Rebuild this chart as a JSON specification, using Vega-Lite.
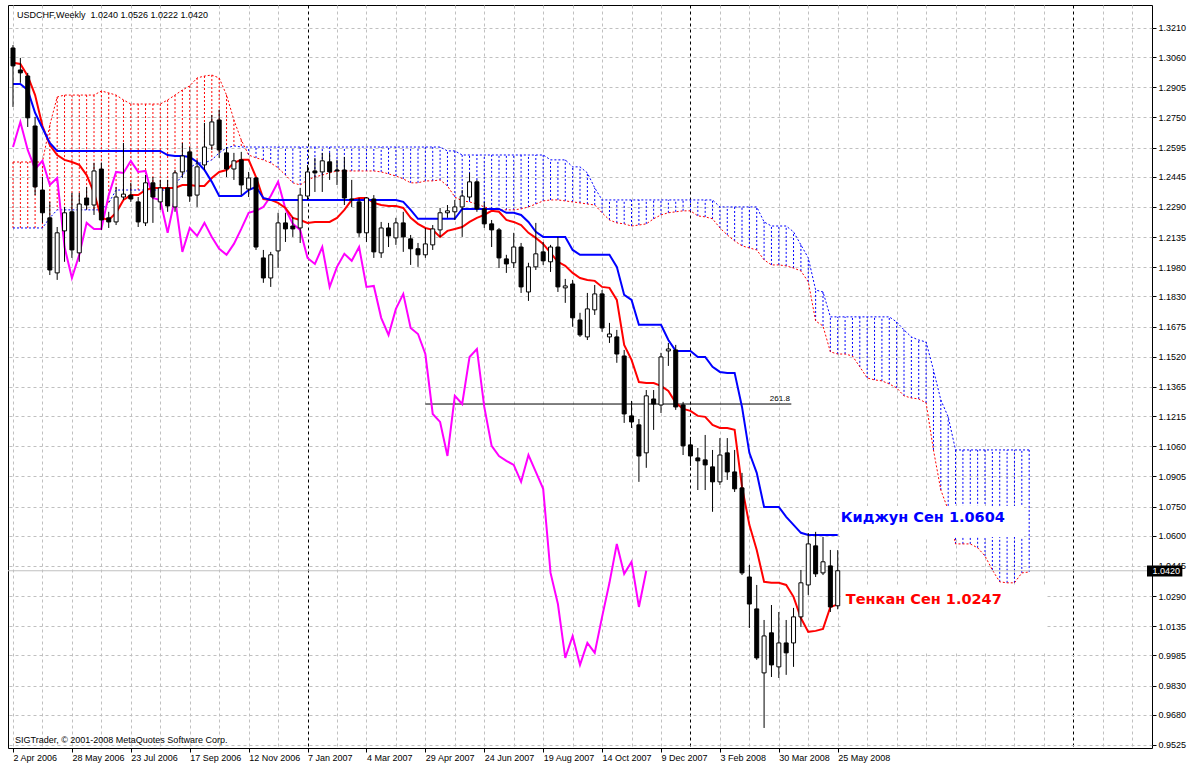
{
"$schema":"https://vega.github.io/schema/vega-lite/v6.json",
"width":1144,"height":743,"autosize":"none",
"padding":{"left":8,"top":5,"right":35,"bottom":15},
"background":"#ffffff",
"config":{"view":{"stroke":"#000000","strokeWidth":1},"font":"Liberation Sans","text":{"font":"Liberation Sans"},
 "axis":{"labelOverlap":false,"labelBound":false,"labelFlush":false,"title":null}},
"datasets":{
"bars":[
{"w":0,"o":1.3107,"h":1.3122,"l":1.2804,"c":1.3015,"t":1.3031,"k":1.2922,"ch":1.2598},
{"w":1,"o":1.2994,"h":1.3056,"l":1.2928,"c":1.2979,"t":1.3025,"k":1.2922,"ch":1.2727},
{"w":2,"o":1.2963,"h":1.2979,"l":1.2701,"c":1.2748,"t":1.2963,"k":1.2891,"ch":1.2583},
{"w":3,"o":1.2706,"h":1.2753,"l":1.2351,"c":1.2393,"t":1.2865,"k":1.2774,"ch":1.2485},
{"w":4,"o":1.2377,"h":1.2444,"l":1.2208,"c":1.2260,"t":1.2706,"k":1.2696,"ch":1.2527},
{"w":5,"o":1.2234,"h":1.2316,"l":1.1940,"c":1.1966,"t":1.2608,"k":1.2619,"ch":1.2403},
{"w":6,"o":1.1951,"h":1.2187,"l":1.1915,"c":1.2157,"t":1.2557,"k":1.2578,"ch":1.2439},
{"w":7,"o":1.2167,"h":1.2290,"l":1.2008,"c":1.2260,"t":1.2532,"k":1.2578,"ch":1.2084},
{"w":8,"o":1.2265,"h":1.2362,"l":1.2028,"c":1.2069,"t":1.2521,"k":1.2578,"ch":1.1925},
{"w":9,"o":1.2054,"h":1.2362,"l":1.2008,"c":1.2305,"t":1.2506,"k":1.2578,"ch":1.2044},
{"w":10,"o":1.2336,"h":1.2393,"l":1.2275,"c":1.2300,"t":1.2454,"k":1.2578,"ch":1.2208},
{"w":11,"o":1.2300,"h":1.2517,"l":1.2249,"c":1.2475,"t":1.2362,"k":1.2578,"ch":1.2177},
{"w":12,"o":1.2485,"h":1.2517,"l":1.2172,"c":1.2223,"t":1.2234,"k":1.2578,"ch":1.2177},
{"w":13,"o":1.2234,"h":1.2265,"l":1.2182,"c":1.2213,"t":1.2223,"k":1.2578,"ch":1.2351},
{"w":14,"o":1.2213,"h":1.2393,"l":1.2197,"c":1.2341,"t":1.2260,"k":1.2578,"ch":1.2470},
{"w":15,"o":1.2341,"h":1.2619,"l":1.2326,"c":1.2356,"t":1.2326,"k":1.2578,"ch":1.2465},
{"w":16,"o":1.2351,"h":1.2414,"l":1.2316,"c":1.2331,"t":1.2351,"k":1.2578,"ch":1.2527},
{"w":17,"o":1.2316,"h":1.2341,"l":1.2187,"c":1.2213,"t":1.2351,"k":1.2578,"ch":1.2470},
{"w":18,"o":1.2208,"h":1.2454,"l":1.2192,"c":1.2414,"t":1.2377,"k":1.2578,"ch":1.2475},
{"w":19,"o":1.2414,"h":1.2444,"l":1.2208,"c":1.2341,"t":1.2388,"k":1.2578,"ch":1.2336},
{"w":20,"o":1.2316,"h":1.2429,"l":1.2275,"c":1.2388,"t":1.2388,"k":1.2578,"ch":1.2326},
{"w":21,"o":1.2388,"h":1.2429,"l":1.2265,"c":1.2295,"t":1.2388,"k":1.2557,"ch":1.2157},
{"w":22,"o":1.2290,"h":1.2480,"l":1.2265,"c":1.2465,"t":1.2388,"k":1.2552,"ch":1.2336},
{"w":23,"o":1.2470,"h":1.2619,"l":1.2439,"c":1.2552,"t":1.2403,"k":1.2552,"ch":1.2059},
{"w":24,"o":1.2573,"h":1.2598,"l":1.2316,"c":1.2346,"t":1.2403,"k":1.2547,"ch":1.2182},
{"w":25,"o":1.2351,"h":1.2532,"l":1.2290,"c":1.2496,"t":1.2398,"k":1.2521,"ch":1.2141},
{"w":26,"o":1.2506,"h":1.2722,"l":1.2480,"c":1.2598,"t":1.2398,"k":1.2480,"ch":1.2208},
{"w":27,"o":1.2608,"h":1.2763,"l":1.2583,"c":1.2727,"t":1.2439,"k":1.2419,"ch":1.2136},
{"w":28,"o":1.2737,"h":1.2789,"l":1.2542,"c":1.2583,"t":1.2470,"k":1.2346,"ch":1.2075},
{"w":29,"o":1.2568,"h":1.2598,"l":1.2444,"c":1.2485,"t":1.2480,"k":1.2346,"ch":1.2044},
{"w":30,"o":1.2485,"h":1.2568,"l":1.2429,"c":1.2527,"t":1.2517,"k":1.2346,"ch":1.2100},
{"w":31,"o":1.2532,"h":1.2573,"l":1.2351,"c":1.2403,"t":1.2532,"k":1.2346,"ch":1.2177},
{"w":32,"o":1.2382,"h":1.2470,"l":1.2341,"c":1.2439,"t":1.2532,"k":1.2377,"ch":1.2260},
{"w":33,"o":1.2439,"h":1.2444,"l":1.2069,"c":1.2084,"t":1.2444,"k":1.2393,"ch":1.2270},
{"w":34,"o":1.2028,"h":1.2069,"l":1.1900,"c":1.1925,"t":1.2331,"k":1.2336,"ch":1.2290},
{"w":35,"o":1.1925,"h":1.2059,"l":1.1879,"c":1.2044,"t":1.2326,"k":1.2326,"ch":1.2346},
{"w":36,"o":1.2064,"h":1.2260,"l":1.1976,"c":1.2208,"t":1.2311,"k":1.2326,"ch":1.2419},
{"w":37,"o":1.2208,"h":1.2260,"l":1.2110,"c":1.2177,"t":1.2285,"k":1.2326,"ch":1.2280},
{"w":38,"o":1.2192,"h":1.2238,"l":1.2136,"c":1.2177,"t":1.2234,"k":1.2326,"ch":1.2203},
{"w":39,"o":1.2182,"h":1.2388,"l":1.2105,"c":1.2351,"t":1.2223,"k":1.2326,"ch":1.2172},
{"w":40,"o":1.2346,"h":1.2506,"l":1.2326,"c":1.2470,"t":1.2208,"k":1.2326,"ch":1.2028},
{"w":41,"o":1.2475,"h":1.2542,"l":1.2367,"c":1.2465,"t":1.2213,"k":1.2326,"ch":1.1997},
{"w":42,"o":1.2470,"h":1.2568,"l":1.2367,"c":1.2527,"t":1.2213,"k":1.2326,"ch":1.2084},
{"w":43,"o":1.2522,"h":1.2568,"l":1.2429,"c":1.2470,"t":1.2213,"k":1.2326,"ch":1.1879},
{"w":44,"o":1.2480,"h":1.2532,"l":1.2403,"c":1.2475,"t":1.2234,"k":1.2326,"ch":1.1982},
{"w":45,"o":1.2480,"h":1.2547,"l":1.2300,"c":1.2336,"t":1.2275,"k":1.2326,"ch":1.2049},
{"w":46,"o":1.2331,"h":1.2429,"l":1.2290,"c":1.2326,"t":1.2326,"k":1.2326,"ch":1.2013},
{"w":47,"o":1.2316,"h":1.2336,"l":1.2136,"c":1.2157,"t":1.2336,"k":1.2326,"ch":1.2084},
{"w":48,"o":1.2157,"h":1.2341,"l":1.2110,"c":1.2336,"t":1.2336,"k":1.2326,"ch":1.1879},
{"w":49,"o":1.2331,"h":1.2351,"l":1.2028,"c":1.2059,"t":1.2311,"k":1.2326,"ch":1.1884},
{"w":50,"o":1.2054,"h":1.2213,"l":1.2028,"c":1.2182,"t":1.2300,"k":1.2326,"ch":1.1720},
{"w":51,"o":1.2182,"h":1.2208,"l":1.2084,"c":1.2141,"t":1.2295,"k":1.2326,"ch":1.1632},
{"w":52,"o":1.2131,"h":1.2234,"l":1.2095,"c":1.2208,"t":1.2295,"k":1.2326,"ch":1.1766},
{"w":53,"o":1.2208,"h":1.2265,"l":1.2059,"c":1.2136,"t":1.2285,"k":1.2316,"ch":1.1843},
{"w":54,"o":1.2126,"h":1.2146,"l":1.1992,"c":1.2075,"t":1.2234,"k":1.2275,"ch":1.1668},
{"w":55,"o":1.2075,"h":1.2105,"l":1.1982,"c":1.2044,"t":1.2203,"k":1.2229,"ch":1.1637},
{"w":56,"o":1.2044,"h":1.2182,"l":1.2028,"c":1.2100,"t":1.2182,"k":1.2229,"ch":1.1534},
{"w":57,"o":1.2095,"h":1.2197,"l":1.2069,"c":1.2177,"t":1.2172,"k":1.2229,"ch":1.1226},
{"w":58,"o":1.2172,"h":1.2285,"l":1.2136,"c":1.2260,"t":1.2136,"k":1.2229,"ch":1.1185},
{"w":59,"o":1.2260,"h":1.2300,"l":1.2234,"c":1.2270,"t":1.2167,"k":1.2229,"ch":1.1010},
{"w":60,"o":1.2265,"h":1.2326,"l":1.2223,"c":1.2290,"t":1.2177,"k":1.2229,"ch":1.1319},
{"w":61,"o":1.2290,"h":1.2377,"l":1.2136,"c":1.2346,"t":1.2187,"k":1.2280,"ch":1.1277},
{"w":62,"o":1.2341,"h":1.2465,"l":1.2326,"c":1.2419,"t":1.2213,"k":1.2280,"ch":1.1519},
{"w":63,"o":1.2419,"h":1.2429,"l":1.2265,"c":1.2280,"t":1.2234,"k":1.2280,"ch":1.1560},
{"w":64,"o":1.2280,"h":1.2316,"l":1.2182,"c":1.2203,"t":1.2249,"k":1.2280,"ch":1.1262},
{"w":65,"o":1.2203,"h":1.2223,"l":1.2084,"c":1.2172,"t":1.2270,"k":1.2280,"ch":1.1062},
{"w":66,"o":1.2172,"h":1.2182,"l":1.1976,"c":1.2028,"t":1.2265,"k":1.2280,"ch":1.1010},
{"w":67,"o":1.2023,"h":1.2044,"l":1.1951,"c":1.1997,"t":1.2223,"k":1.2260,"ch":1.0985},
{"w":68,"o":1.2003,"h":1.2157,"l":1.1976,"c":1.2084,"t":1.2213,"k":1.2260,"ch":1.0964},
{"w":69,"o":1.2084,"h":1.2105,"l":1.1848,"c":1.1879,"t":1.2197,"k":1.2249,"ch":1.0877},
{"w":70,"o":1.1853,"h":1.2003,"l":1.1807,"c":1.1982,"t":1.2157,"k":1.2213,"ch":1.1015},
{"w":71,"o":1.1982,"h":1.2208,"l":1.1966,"c":1.2049,"t":1.2131,"k":1.2162,"ch":1.0928},
{"w":72,"o":1.2059,"h":1.2110,"l":1.1992,"c":1.2013,"t":1.2100,"k":1.2136,"ch":1.0841},
{"w":73,"o":1.2008,"h":1.2095,"l":1.1956,"c":1.2084,"t":1.2054,"k":1.2136,"ch":1.0409},
{"w":74,"o":1.2084,"h":1.2136,"l":1.1853,"c":1.1879,"t":1.2008,"k":1.2136,"ch":1.0249},
{"w":75,"o":1.1874,"h":1.1920,"l":1.1797,"c":1.1884,"t":1.1987,"k":1.2136,"ch":0.9972},
{"w":76,"o":1.1894,"h":1.1915,"l":1.1674,"c":1.1720,"t":1.1951,"k":1.2069,"ch":1.0085},
{"w":77,"o":1.1709,"h":1.1746,"l":1.1622,"c":1.1632,"t":1.1925,"k":1.2044,"ch":0.9936},
{"w":78,"o":1.1622,"h":1.1848,"l":1.1606,"c":1.1766,"t":1.1915,"k":1.2044,"ch":1.0049},
{"w":79,"o":1.1761,"h":1.1889,"l":1.1735,"c":1.1843,"t":1.1910,"k":1.2044,"ch":0.9998},
{"w":80,"o":1.1843,"h":1.1863,"l":1.1648,"c":1.1668,"t":1.1879,"k":1.2044,"ch":1.0183},
{"w":81,"o":1.1622,"h":1.1694,"l":1.1591,"c":1.1637,"t":1.1874,"k":1.2044,"ch":1.0358},
{"w":82,"o":1.1622,"h":1.1658,"l":1.1489,"c":1.1534,"t":1.1812,"k":1.1982,"ch":1.0558},
{"w":83,"o":1.1524,"h":1.1555,"l":1.1180,"c":1.1226,"t":1.1581,"k":1.1838,"ch":1.0404},
{"w":84,"o":1.1216,"h":1.1293,"l":1.1154,"c":1.1185,"t":1.1504,"k":1.1812,"ch":1.0466},
{"w":85,"o":1.1170,"h":1.1200,"l":1.0877,"c":1.1010,"t":1.1390,"k":1.1684,"ch":1.0234},
{"w":86,"o":1.1026,"h":1.1349,"l":1.0949,"c":1.1319,"t":1.1385,"k":1.1684,"ch":1.0420},
{"w":87,"o":1.1303,"h":1.1349,"l":1.1144,"c":1.1277,"t":1.1385,"k":1.1684},
{"w":88,"o":1.1272,"h":1.1540,"l":1.1231,"c":1.1519,"t":1.1370,"k":1.1684},
{"w":89,"o":1.1550,"h":1.1591,"l":1.1473,"c":1.1560,"t":1.1344,"k":1.1606},
{"w":90,"o":1.1555,"h":1.1581,"l":1.1247,"c":1.1262,"t":1.1283,"k":1.1550},
{"w":91,"o":1.1272,"h":1.1288,"l":1.1015,"c":1.1062,"t":1.1252,"k":1.1550},
{"w":92,"o":1.1067,"h":1.1108,"l":1.0959,"c":1.1010,"t":1.1242,"k":1.1550},
{"w":93,"o":1.1000,"h":1.1051,"l":1.0835,"c":1.0985,"t":1.1216,"k":1.1519},
{"w":94,"o":1.0990,"h":1.1118,"l":1.0835,"c":1.0964,"t":1.1211,"k":1.1519},
{"w":95,"o":1.0954,"h":1.1041,"l":1.0723,"c":1.0877,"t":1.1170,"k":1.1468},
{"w":96,"o":1.0877,"h":1.1102,"l":1.0861,"c":1.1015,"t":1.1154,"k":1.1442},
{"w":97,"o":1.1026,"h":1.1102,"l":1.0887,"c":1.0928,"t":1.1154,"k":1.1437},
{"w":98,"o":1.0928,"h":1.1041,"l":1.0825,"c":1.0841,"t":1.1144,"k":1.1437},
{"w":99,"o":1.0846,"h":1.0923,"l":1.0398,"c":1.0409,"t":1.0851,"k":1.1262},
{"w":100,"o":1.0388,"h":1.0450,"l":1.0126,"c":1.0249,"t":1.0656,"k":1.1026},
{"w":101,"o":1.0224,"h":1.0347,"l":0.9962,"c":0.9972,"t":1.0527,"k":1.0923},
{"w":102,"o":0.9895,"h":1.0167,"l":0.9612,"c":1.0085,"t":1.0363,"k":1.0748},
{"w":103,"o":1.0101,"h":1.0244,"l":0.9874,"c":0.9936,"t":1.0358,"k":1.0748},
{"w":104,"o":0.9926,"h":1.0208,"l":0.9869,"c":1.0049,"t":1.0358,"k":1.0748},
{"w":105,"o":1.0049,"h":1.0167,"l":0.9885,"c":0.9998,"t":1.0347,"k":1.0697},
{"w":106,"o":1.0049,"h":1.0229,"l":0.9926,"c":1.0183,"t":1.0286,"k":1.0656},
{"w":107,"o":1.0183,"h":1.0424,"l":1.0131,"c":1.0358,"t":1.0177,"k":1.0615},
{"w":108,"o":1.0347,"h":1.0614,"l":1.0296,"c":1.0558,"t":1.0106,"k":1.0604},
{"w":109,"o":1.0548,"h":1.0620,"l":1.0388,"c":1.0404,"t":1.0111,"k":1.0604},
{"w":110,"o":1.0409,"h":1.0594,"l":1.0398,"c":1.0466,"t":1.0121,"k":1.0604},
{"w":111,"o":1.0445,"h":1.0527,"l":1.0208,"c":1.0234,"t":1.0234,"k":1.0604},
{"w":112,"o":1.0240,"h":1.0526,"l":1.0222,"c":1.0420,"t":1.0247,"k":1.0604}
],
"cloud":[
{"w":0,"a":1.2521,"b":1.2182},{"w":1,"a":1.2521,"b":1.2182},{"w":2,"a":1.2521,"b":1.2182},{"w":3,"a":1.2521,"b":1.2182},{"w":4,"a":1.2521,"b":1.2182},
{"w":5,"a":1.2711,"b":1.2234},{"w":6,"a":1.2855,"b":1.2275},{"w":7,"a":1.2865,"b":1.2275},{"w":8,"a":1.2865,"b":1.2275},{"w":9,"a":1.2865,"b":1.2275},
{"w":10,"a":1.2865,"b":1.2275},{"w":11,"a":1.2865,"b":1.2275},{"w":12,"a":1.2886,"b":1.2275},{"w":13,"a":1.2876,"b":1.2311},{"w":14,"a":1.2865,"b":1.2377},
{"w":15,"a":1.2840,"b":1.2377},{"w":16,"a":1.2819,"b":1.2377},{"w":17,"a":1.2819,"b":1.2377},{"w":18,"a":1.2819,"b":1.2377},{"w":19,"a":1.2819,"b":1.2377},
{"w":20,"a":1.2819,"b":1.2377},{"w":21,"a":1.2840,"b":1.2377},{"w":22,"a":1.2865,"b":1.2403},{"w":23,"a":1.2891,"b":1.2454},{"w":24,"a":1.2912,"b":1.2491},
{"w":25,"a":1.2953,"b":1.2516},{"w":26,"a":1.2963,"b":1.2516},{"w":27,"a":1.2968,"b":1.2532},{"w":28,"a":1.2953,"b":1.2568},{"w":29,"a":1.2865,"b":1.2593},
{"w":30,"a":1.2737,"b":1.2604},{"w":31,"a":1.2634,"b":1.2598},{"w":32,"a":1.2557,"b":1.2598},{"w":33,"a":1.2542,"b":1.2598},{"w":34,"a":1.2532,"b":1.2598},
{"w":35,"a":1.2516,"b":1.2598},{"w":36,"a":1.2491,"b":1.2598},{"w":37,"a":1.2454,"b":1.2598},{"w":38,"a":1.2414,"b":1.2598},{"w":39,"a":1.2403,"b":1.2598},
{"w":40,"a":1.2429,"b":1.2598},{"w":41,"a":1.2444,"b":1.2598},{"w":42,"a":1.2454,"b":1.2598},{"w":43,"a":1.2465,"b":1.2598},{"w":44,"a":1.2475,"b":1.2598},
{"w":45,"a":1.2475,"b":1.2598},{"w":46,"a":1.2475,"b":1.2598},{"w":47,"a":1.2475,"b":1.2598},{"w":48,"a":1.2475,"b":1.2598},{"w":49,"a":1.2475,"b":1.2598},
{"w":50,"a":1.2470,"b":1.2598},{"w":51,"a":1.2460,"b":1.2598},{"w":52,"a":1.2449,"b":1.2598},{"w":53,"a":1.2434,"b":1.2598},{"w":54,"a":1.2414,"b":1.2598},
{"w":55,"a":1.2414,"b":1.2598},{"w":56,"a":1.2424,"b":1.2598},{"w":57,"a":1.2424,"b":1.2598},{"w":58,"a":1.2429,"b":1.2598},{"w":59,"a":1.2398,"b":1.2578},
{"w":60,"a":1.2341,"b":1.2578},{"w":61,"a":1.2321,"b":1.2557},{"w":62,"a":1.2316,"b":1.2557},{"w":63,"a":1.2305,"b":1.2557},{"w":64,"a":1.2290,"b":1.2557},
{"w":65,"a":1.2280,"b":1.2557},{"w":66,"a":1.2275,"b":1.2557},{"w":67,"a":1.2275,"b":1.2557},{"w":68,"a":1.2275,"b":1.2557},{"w":69,"a":1.2280,"b":1.2557},
{"w":70,"a":1.2290,"b":1.2557},{"w":71,"a":1.2305,"b":1.2557},{"w":72,"a":1.2321,"b":1.2557},{"w":73,"a":1.2326,"b":1.2532},{"w":74,"a":1.2326,"b":1.2532},
{"w":75,"a":1.2321,"b":1.2532},{"w":76,"a":1.2316,"b":1.2496},{"w":77,"a":1.2311,"b":1.2496},{"w":78,"a":1.2305,"b":1.2465},{"w":79,"a":1.2300,"b":1.2388},
{"w":80,"a":1.2260,"b":1.2326},{"w":81,"a":1.2223,"b":1.2326},{"w":82,"a":1.2208,"b":1.2326},{"w":83,"a":1.2203,"b":1.2326},{"w":84,"a":1.2192,"b":1.2326},
{"w":85,"a":1.2197,"b":1.2326},{"w":86,"a":1.2203,"b":1.2326},{"w":87,"a":1.2229,"b":1.2326},{"w":88,"a":1.2249,"b":1.2326},{"w":89,"a":1.2260,"b":1.2326},
{"w":90,"a":1.2265,"b":1.2326},{"w":91,"a":1.2270,"b":1.2326},{"w":92,"a":1.2270,"b":1.2326},{"w":93,"a":1.2244,"b":1.2326},{"w":94,"a":1.2239,"b":1.2326},
{"w":95,"a":1.2229,"b":1.2326},{"w":96,"a":1.2182,"b":1.2290},{"w":97,"a":1.2146,"b":1.2290},{"w":98,"a":1.2115,"b":1.2290},{"w":99,"a":1.2090,"b":1.2290},
{"w":100,"a":1.2079,"b":1.2290},{"w":101,"a":1.2069,"b":1.2290},{"w":102,"a":1.2018,"b":1.2213},{"w":103,"a":1.1992,"b":1.2192},{"w":104,"a":1.1992,"b":1.2192},
{"w":105,"a":1.1987,"b":1.2192},{"w":106,"a":1.1976,"b":1.2162},{"w":107,"a":1.1961,"b":1.2095},{"w":108,"a":1.1905,"b":1.2028},{"w":109,"a":1.1704,"b":1.1863},
{"w":110,"a":1.1678,"b":1.1853},{"w":111,"a":1.1545,"b":1.1725},{"w":112,"a":1.1534,"b":1.1725},{"w":113,"a":1.1534,"b":1.1725},{"w":114,"a":1.1524,"b":1.1725},
{"w":115,"a":1.1468,"b":1.1725},{"w":116,"a":1.1411,"b":1.1725},{"w":117,"a":1.1401,"b":1.1725},{"w":118,"a":1.1396,"b":1.1725},{"w":119,"a":1.1380,"b":1.1725},
{"w":120,"a":1.1360,"b":1.1699},{"w":121,"a":1.1319,"b":1.1658},{"w":122,"a":1.1308,"b":1.1622},{"w":123,"a":1.1303,"b":1.1606},{"w":124,"a":1.1283,"b":1.1596},
{"w":125,"a":1.1041,"b":1.1452},{"w":126,"a":1.0835,"b":1.1298},{"w":127,"a":1.0733,"b":1.1211},{"w":128,"a":1.0558,"b":1.1041},{"w":129,"a":1.0558,"b":1.1041},
{"w":130,"a":1.0558,"b":1.1041},{"w":131,"a":1.0538,"b":1.1041},{"w":132,"a":1.0496,"b":1.1041},{"w":133,"a":1.0424,"b":1.1041},{"w":134,"a":1.0363,"b":1.1041},
{"w":135,"a":1.0358,"b":1.1041},{"w":136,"a":1.0358,"b":1.1041},{"w":137,"a":1.0409,"b":1.1041},{"w":138,"a":1.0414,"b":1.1041}
]
},
"layer":[
{"data":{"name":"cloud"},
 "mark":{"type":"rule","strokeWidth":1,"strokeDash":[2,2]},
 "encoding":{
  "x":{"field":"w","type":"quantitative","scale":{"domain":[0,154],"nice":false,"zero":false},
   "axis":{"orient":"bottom","tickCount":200,"values":[0,4,8,12,16,20,24,28,32,36,40,44,48,52,56,60,64,68,72,76,80,84,88,92,96,100,104,108,112,116,120,124,128,132,136,140,144,148,152],
    "labelExpr":"(datum.value % 8 == 0 && datum.value <= 112) ? ['2 Apr 2006','28 May 2006','23 Jul 2006','17 Sep 2006','12 Nov 2006','7 Jan 2007','4 Mar 2007','29 Apr 2007','24 Jun 2007','19 Aug 2007','14 Oct 2007','9 Dec 2007','3 Feb 2008','30 Mar 2008','25 May 2008'][datum.value / 8] : ''",
    "grid":true,"gridDash":[3,3],
    "gridColor":{"condition":{"test":"datum.value == 40 || datum.value == 92 || datum.value == 144","value":"#000000"},"value":"#c0c0c0"},
    "domain":false,"ticks":true,"tickSize":4,"tickColor":"#000000",
    "tickOpacity":{"condition":{"test":"datum.value % 8 == 0 && datum.value <= 112","value":1},"value":0},
    "labelAlign":"left","labelPadding":1,"labelFontSize":9,"labelFont":"Liberation Sans","labelColor":"#000000",
    "labelOverlap":false,"labelBound":false,"labelFlush":false,"title":null}},
  "y":{"field":"a","type":"quantitative","scale":{"domain":[0.9509,1.3328],"nice":false,"zero":false},
   "axis":{"orient":"right","tickCount":200,"values":[1.321,1.306,1.2905,1.275,1.2595,1.2445,1.229,1.2135,1.198,1.183,1.1675,1.152,1.1365,1.1215,1.106,1.0905,1.075,1.06,1.0445,1.029,1.0135,0.9985,0.983,0.968,0.9525],
    "format":".4f","grid":true,"gridDash":[3,3],"gridColor":"#c0c0c0","domain":false,"tickSize":4,"tickColor":"#000000",
    "labelPadding":2,"labelFontSize":9,"labelFont":"Liberation Sans","labelColor":"#000000","labelOverlap":false,"labelBound":false,"labelFlush":false,"title":null}},
  "y2":{"field":"b"},
  "color":{"condition":{"test":"datum.a > datum.b","value":"#ff0000"},"value":"#0000ff"}
 }},
{"data":{"name":"cloud"},"mark":{"type":"line","color":"#ff0000","strokeWidth":1,"strokeDash":[2,2]},
 "encoding":{"x":{"field":"w","type":"quantitative","scale":{"domain":[0,154],"nice":false,"zero":false}},
  "y":{"field":"a","type":"quantitative","scale":{"domain":[0.9509,1.3328],"nice":false,"zero":false}}}},
{"data":{"name":"cloud"},"mark":{"type":"line","color":"#0000ff","strokeWidth":1,"strokeDash":[2,2]},
 "encoding":{"x":{"field":"w","type":"quantitative","scale":{"domain":[0,154],"nice":false,"zero":false}},
  "y":{"field":"b","type":"quantitative","scale":{"domain":[0.9509,1.3328],"nice":false,"zero":false}}}},
{"data":{"values":[{}]},"mark":{"type":"rule","color":"#c0c0c0","strokeWidth":1},
 "encoding":{"y":{"datum":1.042,"type":"quantitative","scale":{"domain":[0.9509,1.3328],"nice":false,"zero":false}}}},
{"data":{"values":[{}]},"mark":{"type":"rule","color":"#000000","strokeWidth":1},
 "encoding":{"x":{"datum":56,"type":"quantitative","scale":{"domain":[0,154],"nice":false,"zero":false}},
  "x2":{"datum":105.7},
  "y":{"datum":1.1277,"type":"quantitative","scale":{"domain":[0.9509,1.3328],"nice":false,"zero":false}}}},
{"data":{"values":[{}]},"mark":{"type":"text","align":"right","baseline":"alphabetic","fontSize":8,"color":"#000000","font":"Liberation Sans"},
 "encoding":{"x":{"datum":105.5,"type":"quantitative","scale":{"domain":[0,154],"nice":false,"zero":false}},
  "y":{"datum":1.1293,"type":"quantitative","scale":{"domain":[0.9509,1.3328],"nice":false,"zero":false}},
  "text":{"value":"261.8"}}},
{"data":{"name":"bars"},"transform":[{"filter":"isValid(datum.ch)"}],"mark":{"type":"line","color":"#ff00ff","strokeWidth":2},
 "encoding":{"x":{"field":"w","type":"quantitative","scale":{"domain":[0,154],"nice":false,"zero":false}},
  "y":{"field":"ch","type":"quantitative","scale":{"domain":[0.9509,1.3328],"nice":false,"zero":false}}}},
{"data":{"name":"bars"},"mark":{"type":"line","color":"#ff0000","strokeWidth":2},
 "encoding":{"x":{"field":"w","type":"quantitative","scale":{"domain":[0,154],"nice":false,"zero":false}},
  "y":{"field":"t","type":"quantitative","scale":{"domain":[0.9509,1.3328],"nice":false,"zero":false}}}},
{"data":{"name":"bars"},"mark":{"type":"line","color":"#0000ff","strokeWidth":2},
 "encoding":{"x":{"field":"w","type":"quantitative","scale":{"domain":[0,154],"nice":false,"zero":false}},
  "y":{"field":"k","type":"quantitative","scale":{"domain":[0.9509,1.3328],"nice":false,"zero":false}}}},
{"data":{"name":"bars"},"mark":{"type":"rule","color":"#000000","strokeWidth":1},
 "encoding":{"x":{"field":"w","type":"quantitative","scale":{"domain":[0,154],"nice":false,"zero":false}},
  "y":{"field":"l","type":"quantitative","scale":{"domain":[0.9509,1.3328],"nice":false,"zero":false}},
  "y2":{"field":"h"}}},
{"data":{"name":"bars"},"mark":{"type":"bar","size":4,"stroke":"#000000","strokeWidth":1},
 "encoding":{"x":{"field":"w","type":"quantitative","scale":{"domain":[0,154],"nice":false,"zero":false}},
  "y":{"field":"o","type":"quantitative","scale":{"domain":[0.9509,1.3328],"nice":false,"zero":false}},
  "y2":{"field":"c"},
  "fill":{"condition":{"test":"datum.c >= datum.o","value":"#ffffff"},"value":"#000000"}}},
{"data":{"values":[{}]},"mark":{"type":"rect","fill":"#ffffff","stroke":null},
 "encoding":{"x":{"datum":112.3,"type":"quantitative","scale":{"domain":[0,154],"nice":false,"zero":false}},
  "x2":{"datum":137.3},
  "y":{"datum":1.0753,"type":"quantitative","scale":{"domain":[0.9509,1.3328],"nice":false,"zero":false}},
  "y2":{"datum":1.0594}}},
{"data":{"values":[{}]},"mark":{"type":"rect","fill":"#ffffff","stroke":null},
 "encoding":{"x":{"datum":112.6,"type":"quantitative","scale":{"domain":[0,154],"nice":false,"zero":false}},
  "x2":{"datum":140.3},
  "y":{"datum":1.0342,"type":"quantitative","scale":{"domain":[0.9509,1.3328],"nice":false,"zero":false}},
  "y2":{"datum":0.9998}}},
{"data":{"values":[{}]},"mark":{"type":"text","align":"left","baseline":"middle","fontSize":14.5,"fontWeight":"bold","color":"#0000ff","font":"DejaVu Sans"},
 "encoding":{"x":{"datum":112.4,"type":"quantitative","scale":{"domain":[0,154],"nice":false,"zero":false}},
  "y":{"datum":1.0692,"type":"quantitative","scale":{"domain":[0.9509,1.3328],"nice":false,"zero":false}},
  "text":{"value":"Киджун Сен 1.0604"}}},
{"data":{"values":[{}]},"mark":{"type":"text","align":"left","baseline":"middle","fontSize":14.5,"fontWeight":"bold","color":"#ff0000","font":"DejaVu Sans"},
 "encoding":{"x":{"datum":113.1,"type":"quantitative","scale":{"domain":[0,154],"nice":false,"zero":false}},
  "y":{"datum":1.027,"type":"quantitative","scale":{"domain":[0.9509,1.3328],"nice":false,"zero":false}},
  "text":{"value":"Тенкан Сен 1.0247"}}},
{"data":{"values":[{}]},"mark":{"type":"text","align":"left","baseline":"middle","fontSize":9,"color":"#000000","font":"Liberation Sans"},
 "encoding":{"x":{"datum":0.55,"type":"quantitative","scale":{"domain":[0,154],"nice":false,"zero":false}},
  "y":{"datum":1.3277,"type":"quantitative","scale":{"domain":[0.9509,1.3328],"nice":false,"zero":false}},
  "text":{"value":"USDCHF,Weekly\u00a0 1.0240 1.0526 1.0222 1.0420"}}},
{"data":{"values":[{}]},"mark":{"type":"text","align":"left","baseline":"middle","fontSize":9,"color":"#000000","font":"Liberation Sans"},
 "encoding":{"x":{"datum":0.27,"type":"quantitative","scale":{"domain":[0,154],"nice":false,"zero":false}},
  "y":{"datum":0.955,"type":"quantitative","scale":{"domain":[0.9509,1.3328],"nice":false,"zero":false}},
  "text":{"value":"SIGTrader, © 2001-2008 MetaQuotes Software Corp."}}},
{"data":{"values":[{}]},"mark":{"type":"rect","fill":"#000000","stroke":null},
 "encoding":{"x":{"datum":154,"type":"quantitative","scale":{"domain":[0,154],"nice":false,"zero":false}},
  "x2":{"datum":158.8},
  "y":{"datum":1.0447,"type":"quantitative","scale":{"domain":[0.9509,1.3328],"nice":false,"zero":false}},
  "y2":{"datum":1.0391}}},
{"data":{"values":[{}]},"mark":{"type":"text","align":"left","baseline":"middle","fontSize":9,"color":"#ffffff","font":"Liberation Sans"},
 "encoding":{"x":{"datum":154.75,"type":"quantitative","scale":{"domain":[0,154],"nice":false,"zero":false}},
  "y":{"datum":1.042,"type":"quantitative","scale":{"domain":[0.9509,1.3328],"nice":false,"zero":false}},
  "text":{"value":"1.0420"}}}
]
}
